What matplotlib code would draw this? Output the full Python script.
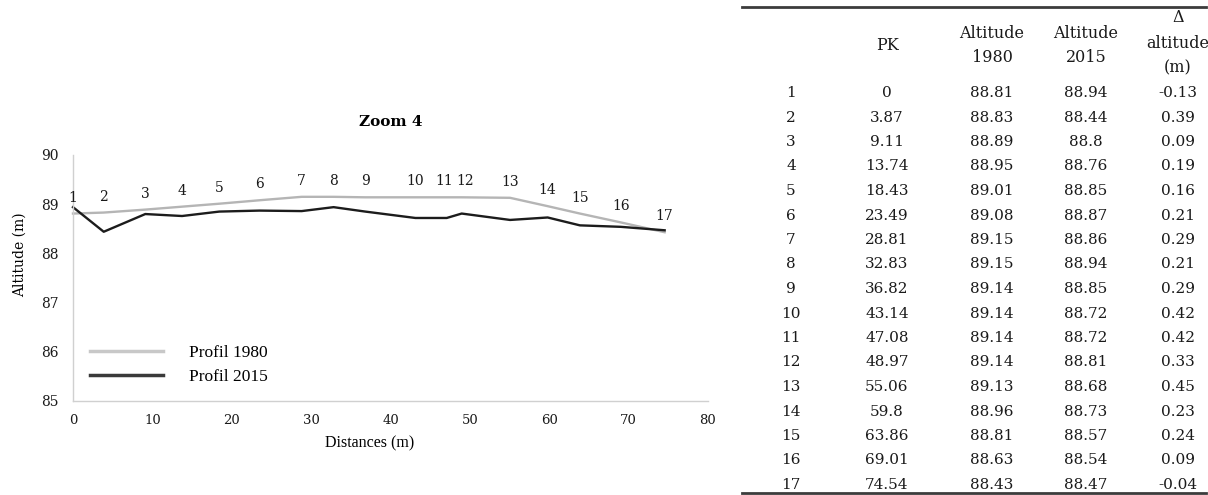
import matplotlib
matplotlib.use("Agg")
import matplotlib.pyplot as plt
from matplotlib.lines import Line2D

# profile points
points = list(range(1, 18))
pk = [0, 3.87, 9.11, 13.74, 18.43, 23.49, 28.81, 32.83, 36.82, 43.14, 47.08,
      48.97, 55.06, 59.8, 63.86, 69.01, 74.54]
alt_1980 = [88.81, 88.83, 88.89, 88.95, 89.01, 89.08, 89.15, 89.15, 89.14,
            89.14, 89.14, 89.14, 89.13, 88.96, 88.81, 88.63, 88.43]
alt_2015 = [88.94, 88.44, 88.8, 88.76, 88.85, 88.87, 88.86, 88.94, 88.85,
            88.72, 88.72, 88.81, 88.68, 88.73, 88.57, 88.54, 88.47]
delta_alt = [-0.13, 0.39, 0.09, 0.19, 0.16, 0.21, 0.29, 0.21, 0.29, 0.42,
             0.42, 0.33, 0.45, 0.23, 0.24, 0.09, -0.04]

x_ticks = [0, 10, 20, 30, 40, 50, 60, 70, 80]
y_ticks = [85, 86, 87, 88, 89, 90]

W, H = 1208, 495
SERIF = 'DejaVu Serif'
NARROW = 'Liberation Serif'


def fx(px):
    return px / W


def fy(py):
    return 1 - py / H


fig = plt.figure(figsize=(W / 100, H / 100), dpi=100)
ax = fig.add_axes([fx(73), fy(401), fx(708) - fx(73), fy(155) - fy(401)])

ax.plot(pk, alt_1980, color='#b5b5b5', lw=1.7, label='Profil 1980', clip_on=False)
ax.plot(pk, alt_2015, color='#1c1c1c', lw=1.7, label='Profil 2015', clip_on=False)

# labels 11 and 12 sit almost on top of each other, nudge them apart a bit
nudge = {11: -3, 12: 3}
for n, x, y in zip(points, pk, alt_1980):
    ax.annotate(str(n), (x, y), xytext=(nudge.get(n, 0), 16),
                textcoords='offset pixels', ha='center', va='center',
                fontsize=10, family=SERIF, color='#1a1a1a',
                annotation_clip=False)

ax.set_xlim(0, 80)
ax.set_ylim(85, 90)
ax.set_xticks(x_ticks)
ax.set_yticks(y_ticks)
ax.set_xticklabels([str(t) for t in x_ticks], family=SERIF, fontsize=9.5)
ax.set_yticklabels([str(t) for t in y_ticks], family=SERIF, fontsize=10)
ax.tick_params(length=0, pad=9, colors='#1a1a1a')
ax.tick_params(axis='y', pad=10)
for side in ['top', 'right']:
    ax.spines[side].set_visible(False)
for side in ['left', 'bottom']:
    ax.spines[side].set_color('#d0d0d0')
    ax.spines[side].set_linewidth(1.0)

ax.set_title('Zoom 4', family=SERIF, fontsize=11, fontweight='bold', pad=21)
fig.text(fx(370), fy(443), 'Distances (m)', family=NARROW, fontsize=11.5,
         ha='center', va='center')
fig.text(fx(20), fy(255), 'Altitude (m)', family=SERIF, fontsize=10,
         ha='center', va='center', rotation=90)

handles = [Line2D([], [], color='#c8c8c8', lw=2.5),
           Line2D([], [], color='#3a3a3a', lw=2.5)]
fig.legend(handles, ['Profil 1980', 'Profil 2015'], loc='center left',
           bbox_to_anchor=(fx(90), fy(365)), frameon=False, borderpad=0,
           borderaxespad=0, handlelength=4.2, handletextpad=1.5,
           labelspacing=0.45, prop={'family': NARROW, 'size': 12.5})

# table on the right
rule_color = '#3c3c3c'
fig.add_artist(Line2D([fx(742), fx(1206)], [fy(7), fy(7)], color=rule_color, lw=2))
fig.add_artist(Line2D([fx(742), fx(1206)], [fy(493), fy(493)], color=rule_color, lw=2))

col_x = [791, 887, 992, 1086, 1178]
tsize = 11
header = [(887, 45, 'PK'),
          (992, 33, 'Altitude'), (992, 58, '1980'),
          (1086, 33, 'Altitude'), (1086, 58, '2015'),
          (1178, 18, 'Δ'), (1178, 43, 'altitude'), (1178, 68, '(m)')]
for x, y, s in header:
    fig.text(fx(x), fy(y), s, family=SERIF, fontsize=11.5, ha='center',
             va='center', color='#1a1a1a')

for i in range(len(points)):
    y = 93 + i * 24.5
    row = [str(points[i]), str(pk[i]), str(alt_1980[i]), str(alt_2015[i]),
           str(delta_alt[i])]
    for x, s in zip(col_x, row):
        fig.text(fx(x), fy(y), s, family=SERIF, fontsize=tsize, ha='center',
                 va='center', color='#1a1a1a')

fig.savefig('out.png', dpi=100)
